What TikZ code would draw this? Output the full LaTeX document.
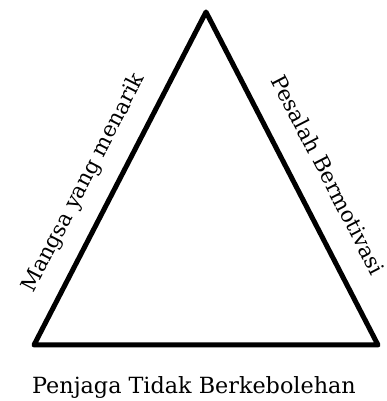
\documentclass[tikz,border=0pt]{standalone}
\usepackage{fontspec}
\setmainfont{DejaVu Serif}
\usetikzlibrary{positioning}
\tikzset{
  triangle line/.style={
    line width=5pt,       % thick outline
    line join=round,
  }
}
\tikzset{
  side label/.style={
    sloped,
    anchor=base,
    inner sep=0pt,
    font=\fontsize{21.5}{26}\selectfont,
  }
}

\begin{document}
\begin{tikzpicture}[x=1pt, y=1pt]
    % Frame of the picture
    \useasboundingbox (0,0) rectangle (386,401);

    % Corners of the triangle
    \coordinate (top) at (206,389);
    \coordinate (left) at (34,56);
    \coordinate (right) at (378,56);

    % Draw the triangle
    \draw[triangle line] (left) -- (top) -- (right) -- cycle;

    % Labels along the two sides
    \path (left) -- (top) node[side label, pos=0.445, yshift=24pt] (prey) {Mangsa yang menarik};
    \path (top) -- (right) node[side label, pos=0.536, yshift=26pt] (offender) {Pesalah Bermotivasi};

    % Label under the base
    \node[side label, sloped=false, font=\fontsize{22.3}{26}\selectfont] (guardian) at (194,8) {Penjaga Tidak Berkebolehan};
\end{tikzpicture}
\end{document}
